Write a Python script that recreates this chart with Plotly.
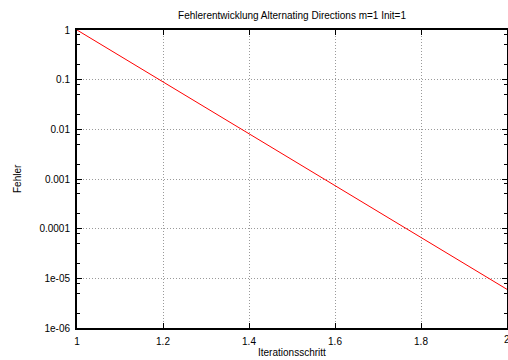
import plotly.graph_objects as go

# Data
iterations = [1, 2]
fehler = [1.0, 6.0e-6]

y_tick_vals = [1e-6, 1e-5, 1e-4, 1e-3, 1e-2, 1e-1, 1]
y_tick_text = ["1e-06", "1e-05", "0.0001", "0.001", "0.01", "0.1", "1"]
x_tick_vals = [1, 1.2, 1.4, 1.6, 1.8, 2]
x_tick_text = ["1", "1.2", "1.4", "1.6", "1.8", "2"]
minor_mults = [2, 5, 8]

title_text = "Fehlerentwicklung Alternating Directions m=1 Init=1"
x_title = "Iterationsschritt"
y_title = "Fehler"

minor_vals = [m * 10.0 ** e for e in range(-6, 0) for m in minor_mults]

font = "Liberation Sans, Arial, Helvetica, sans-serif"
fs = 10

fig = go.Figure()
fig.add_trace(go.Scatter(x=iterations, y=fehler, mode="lines",
                         line=dict(color="#ff0000", width=1), showlegend=False))

fig.update_layout(
    width=508, height=360,
    margin=dict(l=77, r=1, t=30, b=32, autoexpand=False),
    paper_bgcolor="white", plot_bgcolor="white",
    font=dict(family=font, size=fs, color="black"),
    title=dict(text=title_text, xref="paper", x=0.5, xanchor="center",
               yref="container", y=1 - 15 / 360,
               yanchor="middle", font=dict(size=fs, family=font),
               automargin=False),
    annotations=[
        dict(text=x_title, xref="paper", yref="paper", x=0.5, y=0,
             xanchor="center", yanchor="middle", yshift=-24, showarrow=False,
             font=dict(size=fs)),
        dict(text=y_title, xref="paper", yref="paper", x=0, y=0.5,
             xanchor="center", yanchor="middle", xshift=-60, textangle=-90,
             showarrow=False, font=dict(size=fs)),
        # last x tick label, partly outside the figure as in the original
        dict(text=x_tick_text[-1], xref="x", yref="paper", x=x_tick_vals[-1], y=0,
             xanchor="center", yanchor="top", yshift=-4, showarrow=False,
             font=dict(size=fs)),
    ],
)
grid_kw = dict(showgrid=True, gridcolor="#9a9a9a", griddash="1px,2px", gridwidth=1)
fig.update_xaxes(
    range=[1, 2], tickmode="array", tickvals=x_tick_vals, ticktext=x_tick_text,
    ticks="inside", ticklen=5, tickwidth=1, tickcolor="black",
    showline=True, linecolor="black", linewidth=2, mirror="ticks",
    zeroline=False, automargin=False, ticklabelstandoff=3,
    **grid_kw,
)
fig.update_yaxes(
    type="log", range=[-6, 0], tickmode="array", tickvals=y_tick_vals,
    ticktext=y_tick_text,
    ticks="inside", ticklen=5, tickwidth=1, tickcolor="black",
    showline=True, linecolor="black", linewidth=2, mirror="ticks",
    zeroline=False, automargin=False,
    minor=dict(tickmode="array", tickvals=minor_vals, ticks="inside",
               ticklen=3, tickcolor="black", showgrid=False),
    ticklabelstandoff=3,
    **grid_kw,
)

fig.write_html("out.html", config={"displayModeBar": False},
               post_script="document.body.style.margin='0';document.body.style.overflow='hidden';")
